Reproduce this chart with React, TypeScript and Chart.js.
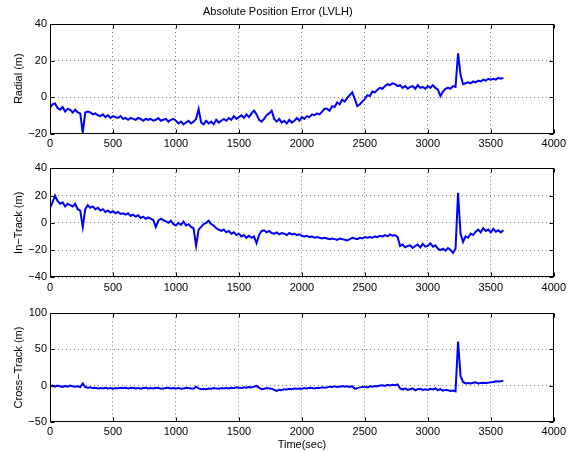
import React, { useEffect, useRef } from "react";
import { Chart, registerables } from "chart.js";

Chart.register(...registerables);

// ---- data (sampled every TIME_STEP seconds, starting at t = 0) ----
const TIME_STEP = 20;

const radial = [
  -6, -4, -3.5, -6, -7, -5.5, -8, -6.5, -7, -8.5,
  -7, -8.5, -9, -19.5, -8.5, -8, -8.5, -9.5, -9, -10,
  -10.5, -9.5, -11, -10, -11.5, -10.5, -11, -11.5, -10.5, -12,
  -11.5, -12.5, -11.5, -12, -12.5, -11.5, -12, -13, -12, -12.5,
  -12, -13, -12.5, -11.5, -13, -12.5, -12, -13.5, -12.5, -12,
  -13, -14.5, -13.5, -15, -14, -13, -14.5, -13.5, -12, -6.5,
  -14, -15, -13, -14.5, -13.5, -15, -12.5, -14, -13, -12,
  -13, -11.5, -12.5, -10.5, -12, -11, -10, -11.5, -9.5, -11,
  -9, -7.5, -9.5, -12.5, -13.5, -12, -10, -9, -7.5, -12,
  -13.5, -12, -14, -13, -14.5, -12.5, -14, -13, -11.5, -13,
  -11, -12, -10.5, -11, -9.5, -10, -9, -9.5, -8, -6.5,
  -6.5, -7.5, -5, -5.5, -3, -4, -1.5, -2.5, -0.5, 1,
  2.5, -1, -5, -4, -2.5, -1, 1, 0.5, 3, 2.5,
  4, 5, 4.5, 6, 7, 6.5, 7.5, 7, 6, 6.5,
  5, 6, 4.5, 5.5, 6, 4.5, 6.5, 5, 5.5, 4.5,
  6, 5, 6.5, 5, 4, 0.5, 3, 4.5, 5, 4.5,
  6, 5.5, 24, 12, 7, 7.5, 8, 7.5, 8.5, 8,
  9, 8.5, 9.5, 9, 10, 9.5, 10, 9.5, 10.5, 10,
  10.5,
];

const inTrack = [
  11, 15, 20, 16, 14, 15, 12, 14, 13, 12,
  14, 10, 9, -3, 10, 13, 11, 12, 10, 11,
  9, 10, 8, 9, 7.5, 8.5, 7, 8, 6.5, 7,
  6, 7, 5, 6, 4.5, 5.5, 3.5, 4.5, 3, 4,
  3, 2, -3, 1.5, 3, 2, 1, 0, 1.5, -1,
  -2, 0, -1.5, 1, -2, -1, -3, -4, -17, -5,
  -3, -1, 0, 1.5, -1, -2, -4, -5, -6, -5,
  -7, -6, -8, -7, -9, -8, -10, -9, -11, -9.5,
  -11, -10, -15, -9, -6, -5.5, -7, -6, -7.5, -8,
  -7, -8.5, -7.5, -8, -9, -7.5, -8.5, -8, -9, -8.5,
  -9.5, -10, -9.5, -10.5, -10, -11, -10.5, -11, -11.5, -11,
  -11.5, -12, -11.5, -12, -12.5, -11.5, -12, -12.5, -13, -12,
  -11, -11.5, -12, -11, -11.5, -10.5, -11, -10.5, -11, -10,
  -10.5, -9.5, -10, -9, -10, -8.5, -9.5, -9, -10.5, -17,
  -16, -18, -17, -16.5, -18.5, -17, -16, -18, -15.5, -17.5,
  -17, -15, -17.5, -16.5, -19, -20, -19, -20.5, -18.5, -20,
  -22, -19, 22, -8, -14, -10, -11, -8, -9, -6.5,
  -5, -7, -4, -6, -5, -7, -4.5, -6.5, -5.5, -7,
  -5.5,
];

const crossTrack = [
  -1, 0, -1.5, 0, -1, -2, -0.5, -1.5, 0, -1,
  -1.5, -1, -2, 3, -2, -3, -2.5, -3.5, -3, -4,
  -3.5, -4, -3, -4, -3.5, -4.5, -3.5, -4, -3, -3.5,
  -3, -4, -3.5, -3, -4, -3.5, -4.5, -3.5, -3, -4,
  -3.5, -4, -3, -3.5, -4.5, -4, -3.5, -3, -4, -3.5,
  -4, -3.5, -4.5, -4, -3, -3.5, -4, -4.5, -1.5, -4,
  -5, -4.5, -5, -4, -4.5, -3.5, -4, -4.5, -3.5, -4,
  -3.5, -4, -3, -3.5, -2.5, -3, -3.5, -2.5, -3, -2,
  -2.5, -1.5, -0.5, -3, -5, -4.5, -3.5, -4, -4.5, -6,
  -7.5, -6, -6.5, -5, -5.5, -4.5, -5, -4, -4.5, -4,
  -4.5, -3.5, -4, -3, -3.5, -4, -3, -3.5, -2.5, -3,
  -2.5, -1.5, -2, -1, -2, -1.5, -0.5, -1.5, -1, -2,
  -1, -4.5, -3.5, -2.5, -2, -1.5, -2.5, -1, -1.5, -0.5,
  -1, 0, 0.5, -0.5, 1, 0, 1, 0.5, 1.5, -4,
  -5.5, -4, -6, -5, -4, -6.5, -5, -4.5, -6, -5,
  -6, -4.5, -5.5, -4, -6.5, -5, -7, -6, -6.5, -7.5,
  -7, -8, 61, 13, 5, 3, 3.5, 3, 4, 4.5,
  3, 3.5, 4, 3.5, 4, 4.5, 5, 6, 5.5, 6,
  6.5,
];

const TITLE = "Absolute Position Error (LVLH)";
const X_LABEL = "Time(sec)";
const Y_LABELS = ["Radial (m)", "In\u2212Track (m)", "Cross\u2212Track (m)"];
const X_RANGE = [0, 4000];
const X_STEP = 500;
const Y_RANGES = [
  [-20, 40],
  [-40, 40],
  [-50, 100],
];
const Y_STEPS = [20, 20, 50];

// ---- layout (pixels) ----
const PANELS = [
  { top: 0, height: 150, padTop: 0, xh: 16.5, title: true, xTitle: false },
  { top: 150, height: 150, padTop: 18.3, xh: 22.7, title: false, xTitle: false },
  { top: 300, height: 152, padTop: 13.3, xh: 30.3, title: false, xTitle: true },
];
const SERIES = [radial, inTrack, crossTrack];
const FONT = { family: "'Liberation Sans', Arial, Helvetica, sans-serif", size: 11 };

const minus = (v: number) => String(v).replace("-", "\u2212");

const framePlugin = {
  id: "frame",
  afterDraw(chart: any) {
    const { ctx, chartArea: a, scales } = chart;
    const l = Math.round(a.left) + 0.5;
    const r = Math.round(a.right) - 0.5;
    const t = Math.round(a.top) + 0.5;
    const b = Math.round(a.bottom) - 0.5;
    ctx.save();
    ctx.strokeStyle = "#000";
    ctx.lineWidth = 1;
    ctx.setLineDash([]);
    ctx.beginPath();
    const L = 4;
    scales.x.ticks.forEach((tk: any) => {
      const px = Math.round(scales.x.getPixelForValue(tk.value)) + 0.5;
      ctx.moveTo(px, b);
      ctx.lineTo(px, b - L);
      ctx.moveTo(px, t);
      ctx.lineTo(px, t + L);
    });
    scales.y.ticks.forEach((tk: any) => {
      const py = Math.round(scales.y.getPixelForValue(tk.value)) + 0.5;
      ctx.moveTo(l, py);
      ctx.lineTo(l + L, py);
      ctx.moveTo(r, py);
      ctx.lineTo(r - L, py);
    });
    ctx.stroke();
    ctx.strokeRect(l, t, r - l, b - t);
    ctx.restore();
  },
};

function Panel({ index }: { index: number }) {
  const ref = useRef<HTMLCanvasElement | null>(null);
  const p = PANELS[index];
  useEffect(() => {
    if (!ref.current) return;
    const values = SERIES[index];
    const data = values.map((v, i) => ({ x: i * TIME_STEP, y: v }));
    const chart = new Chart(ref.current, {
      type: "line",
      data: {
        datasets: [
          {
            data,
            borderColor: "#0000ff",
            borderWidth: 2,
            pointRadius: 0,
            tension: 0,
            fill: false,
          },
        ],
      },
      options: {
        animation: false,
        responsive: false,
        devicePixelRatio: 1,
        events: [],
        layout: { padding: { top: p.padTop, left: 0, right: 14.5, bottom: 0 } },
        plugins: {
          legend: { display: false },
          tooltip: { enabled: false },
          title: {
            display: p.title,
            text: TITLE,
            color: "#000",
            font: { ...FONT, weight: "normal" },
            padding: { top: 5, bottom: 5.8 },
          },
        },
        scales: {
          x: {
            type: "linear",
            min: X_RANGE[0],
            max: X_RANGE[1],
            afterFit: (s: any) => {
              s.height = p.xh;
            },
            ticks: {
              stepSize: X_STEP,
              color: "#000",
              font: FONT,
              padding: 4,
              maxRotation: 0,
              callback: (v: any) => minus(Number(v)),
            },
            grid: { color: "#7a7a7a", lineWidth: 1, drawTicks: false },
            border: { display: false, dash: [1, 3] },
            title: {
              display: p.xTitle,
              text: X_LABEL,
              color: "#000",
              font: FONT,
              padding: { top: 0, bottom: 0 },
            },
          },
          y: {
            type: "linear",
            min: Y_RANGES[index][0],
            max: Y_RANGES[index][1],
            afterFit: (s: any) => {
              s.width = 50;
            },
            ticks: {
              stepSize: Y_STEPS[index],
              color: "#000",
              font: FONT,
              padding: 3,
              callback: (v: any) => minus(Number(v)),
            },
            grid: { color: "#7a7a7a", lineWidth: 1, drawTicks: false },
            border: { display: false, dash: [1, 3] },
            title: {
              display: true,
              text: Y_LABELS[index],
              color: "#000",
              font: FONT,
              padding: { top: 12.4, bottom: 0 },
            },
          },
        },
      },
      plugins: [framePlugin],
    } as any);
    return () => chart.destroy();
  }, [index]);
  return (
    <canvas
      ref={ref}
      width={570}
      height={p.height}
      style={{ position: "absolute", left: 0, top: p.top, width: 570, height: p.height, display: "block" }}
    />
  );
}

export default function App() {
  return (
    <div style={{ position: "absolute", left: 0, top: 0, width: 570, height: 452, background: "#fff", overflow: "hidden" }}>
      <Panel index={0} />
      <Panel index={1} />
      <Panel index={2} />
    </div>
  );
}
